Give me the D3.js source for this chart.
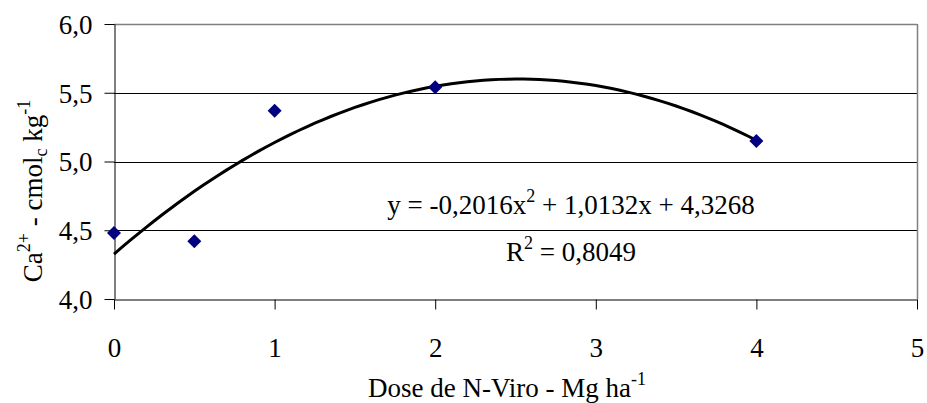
<!DOCTYPE html>
<html>
<head>
<meta charset="utf-8">
<script src="https://cdn.jsdelivr.net/npm/d3@7"></script>
<style>
  body { margin: 0; background: #fff; }
  svg text { font-family: "Liberation Serif", "Times New Roman", serif; fill: #000; }
</style>
</head>
<body>
<svg id="chart" width="927" height="403"></svg>
<script>
// observed points (dose, Ca)
var doses = [0, 0.5, 1, 2, 4];
var caValues = [4.48, 4.42, 5.37, 5.54, 5.15];

// trendline coefficients as printed on the chart: a*x^2 + b*x + c
var trendCoefs = [-0.2016, 1.0132, 4.3268];
var trendLabel = "0,8049";

var xTicks = [0, 1, 2, 3, 4, 5];
var yTicks = [4.0, 4.5, 5.0, 5.5, 6.0];

var svg = d3.select('#chart');

// plot box (note: "top" is reserved on window, so use plot* names)
var plotLeft = 114, plotRight = 917, plotTop = 24, plotBottom = 299;

var x = d3.scaleLinear().domain([0, 5]).range([plotLeft, plotRight]);
var y = d3.scaleLinear().domain([4, 6]).range([plotBottom, plotTop]);

var commaFmt = function(v) { return d3.format('.1f')(v).replace('.', ','); };
var fontSize = 27, supSize = 18;

// horizontal gridlines (top one is grey like the frame)
svg.append('g').selectAll('line')
  .data(yTicks.filter(function(d) { return d > 4; }))
  .enter().append('line')
    .attr('x1', plotLeft).attr('x2', plotRight)
    .attr('y1', function(d) { return Math.round(y(d)) + 0.5; })
    .attr('y2', function(d) { return Math.round(y(d)) + 0.5; })
    .attr('stroke', function(d) { return d === 6 ? '#808080' : '#000'; })
    .attr('stroke-width', function(d) { return d === 6 ? 1.5 : 1; });

// right side of plot frame
svg.append('line')
  .attr('x1', plotRight + 0.5).attr('x2', plotRight + 0.5)
  .attr('y1', plotTop).attr('y2', plotBottom)
  .attr('stroke', '#808080').attr('stroke-width', 1.5);

// axes
var yAxis = d3.axisLeft(y).tickValues(yTicks).tickFormat(commaFmt).tickSizeInner(10).tickSizeOuter(0).tickPadding(12);
var xAxis = d3.axisBottom(x).tickValues(xTicks).tickFormat(d3.format('d')).tickSizeInner(10).tickSizeOuter(0).tickPadding(28);

var gy = svg.append('g').attr('transform', 'translate(' + (plotLeft + 0.5) + ',0)').call(yAxis);
var gx = svg.append('g').attr('transform', 'translate(0,' + (plotBottom + 0.5) + ')').call(xAxis);

[gx, gy].forEach(function(g) {
  g.attr('font-size', null).attr('font-family', null);
  g.selectAll('path, line').attr('stroke', '#000').attr('stroke-width', 1);
  g.selectAll('text').attr('font-size', fontSize).attr('fill', '#000');
});
gy.selectAll('text').attr('dy', '0.35em');

// trendline
var curvePts = d3.range(0, 4.0001, 0.05).map(function(v) {
  return [v, trendCoefs[0] * v * v + trendCoefs[1] * v + trendCoefs[2]];
});
svg.append('path')
  .datum(curvePts)
  .attr('fill', 'none')
  .attr('stroke', '#000')
  .attr('stroke-width', 3)
  .attr('d', d3.line().x(function(d) { return x(d[0]); }).y(function(d) { return y(d[1]); }));

// markers (diamonds)
svg.append('g').selectAll('path')
  .data(doses.map(function(d, i) { return [d, caValues[i]]; }))
  .enter().append('path')
    .attr('transform', function(d) { return 'translate(' + x(d[0]) + ',' + y(d[1]) + ')'; })
    .attr('d', 'M0,-7L7,0L0,7L-7,0Z')
    .attr('fill', '#000080');

// equation label
var fmtCoef = function(v) { return d3.format('.4f')(Math.abs(v)).replace('.', ','); };
var eq = svg.append('text').attr('x', 571).attr('y', 214).attr('text-anchor', 'middle').attr('font-size', fontSize);
eq.append('tspan').text('y = -' + fmtCoef(trendCoefs[0]) + 'x');
eq.append('tspan').attr('dy', -12).attr('font-size', supSize).text('2');
eq.append('tspan').attr('dy', 12).text(' + ' + fmtCoef(trendCoefs[1]) + 'x + ' + fmtCoef(trendCoefs[2]));

var r2 = svg.append('text').attr('x', 571).attr('y', 261).attr('text-anchor', 'middle').attr('font-size', fontSize);
r2.append('tspan').text('R');
r2.append('tspan').attr('dy', -12).attr('font-size', supSize).text('2');
r2.append('tspan').attr('dy', 12).text(' = ' + trendLabel);

// x axis title
var xt = svg.append('text').attr('x', 368).attr('y', 397).attr('font-size', fontSize);
xt.append('tspan').text('Dose de N-Viro - Mg ha');
xt.append('tspan').attr('dy', -12).attr('font-size', supSize).text('-1');

// y axis title
var yt = svg.append('text')
  .attr('transform', 'translate(42,191) rotate(-90)')
  .attr('text-anchor', 'middle').attr('font-size', fontSize);
yt.append('tspan').text('Ca');
yt.append('tspan').attr('dy', -12).attr('font-size', supSize).text('2+');
yt.append('tspan').attr('dy', 12).text(' - cmol');
yt.append('tspan').attr('dy', 5).attr('font-size', supSize).text('c');
yt.append('tspan').attr('dy', -5).text(' kg');
yt.append('tspan').attr('dy', -12).attr('font-size', supSize).text('-1');
</script>
</body>
</html>
